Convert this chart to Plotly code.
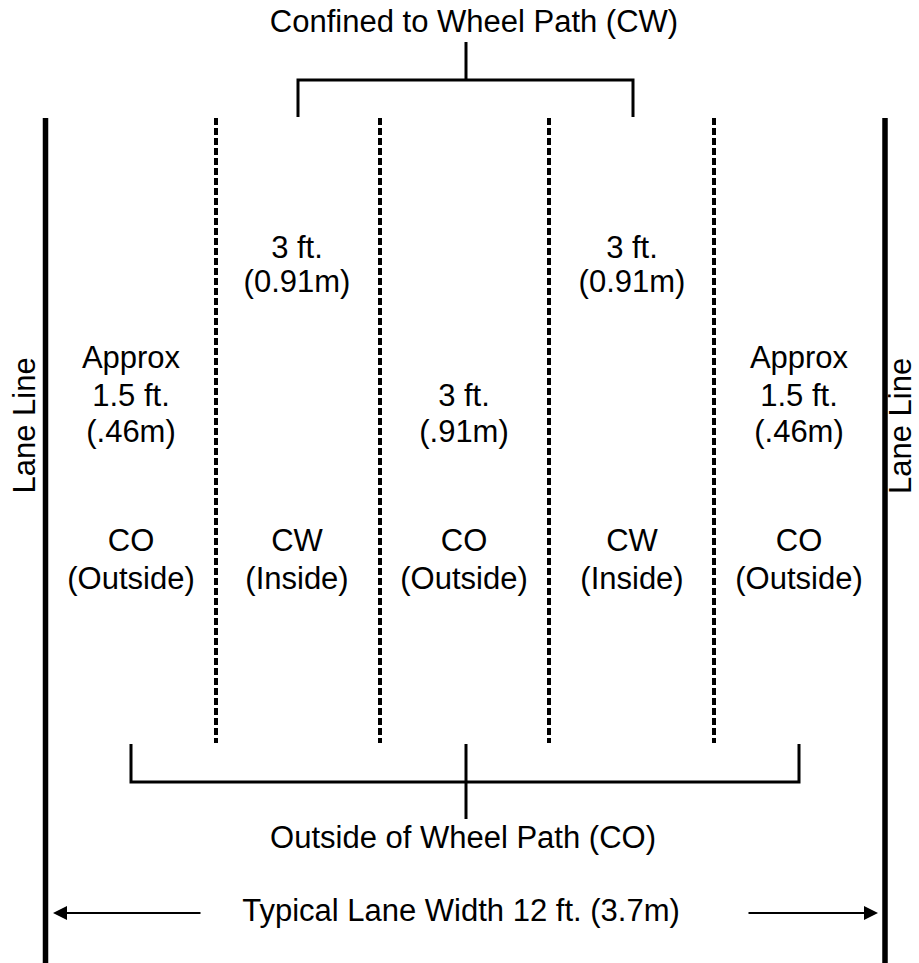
import plotly.graph_objects as go

# ---- diagram data (positions in page-pixel units of the drawing) ----
lane_line_x = [45.5, 885]
lane_line_top = 118
lane_line_bottom = 963

divider_x = [216, 380, 549, 714]
divider_bottom = 743

column_x = [131, 297, 464, 632, 799]
zone_text = ["CO", "CW", "CO", "CW", "CO"]
side_text = ["(Outside)", "(Inside)", "(Outside)", "(Inside)", "(Outside)"]
zone_y = 543
side_y = 581

inner_cols = [1, 3]
inner_width_text = ["3 ft.", "(0.91m)"]
inner_width_y = [250, 284]

outer_cols = [0, 4]
outer_width_text = ["Approx", "1.5 ft.", "(.46m)"]
outer_width_y = [360, 398, 434]

center_cols = [2]
center_width_text = ["3 ft.", "(.91m)"]
center_width_y = [398, 434]

cw_bracket_x = [298, 633]
cw_bracket_y = [117, 80]
cw_stem_x = 466
cw_stem_top = 42
cw_title = "Confined to Wheel Path (CW)"
cw_title_pos = (474, 24)

co_bracket_x = [131, 799]
co_bracket_y = [744, 782]
co_stem_x = 466
co_stem_bottom = 819
co_title = "Outside of Wheel Path (CO)"
co_title_pos = (463, 840)

width_title = "Typical Lane Width 12 ft. (3.7m)"
width_title_pos = (461, 913)
arrow_left = (202, 53)
arrow_right = (747, 878)

lane_label = "Lane Line"
lane_label_x = [23.5, 900]
lane_label_y = 426

FONT = "Liberation Sans, Arial, sans-serif"
FS = 31
BLACK = "#000000"

fig = go.Figure()

def line(xs, ys, width, dash="solid"):
    fig.add_trace(go.Scatter(x=xs, y=ys, mode="lines",
                             line=dict(color=BLACK, width=width, dash=dash),
                             hoverinfo="skip", showlegend=False))

# lane lines
for lx in lane_line_x:
    line([lx, lx], [lane_line_top, lane_line_bottom], 5.5)

# dashed dividers
for dx in divider_x:
    line([dx, dx], [lane_line_top, divider_bottom], 4, dash="7px,3px")

# CW bracket (top)
line([cw_bracket_x[0], cw_bracket_x[0], cw_bracket_x[1], cw_bracket_x[1]],
     [cw_bracket_y[0], cw_bracket_y[1], cw_bracket_y[1], cw_bracket_y[0]], 3)
line([cw_stem_x, cw_stem_x], [cw_stem_top, cw_bracket_y[1]], 3)

# CO bracket (bottom)
line([co_bracket_x[0], co_bracket_x[0], co_bracket_x[1], co_bracket_x[1]],
     [co_bracket_y[0], co_bracket_y[1], co_bracket_y[1], co_bracket_y[0]], 3)
line([co_stem_x, co_stem_x], [co_bracket_y[0], co_stem_bottom], 3)

# text labels
tx, ty, tt = [], [], []
for c in range(len(column_x)):
    tx += [column_x[c], column_x[c]]
    ty += [zone_y, side_y]
    tt += [zone_text[c], side_text[c]]
for c in inner_cols:
    for s, y in zip(inner_width_text, inner_width_y):
        tx.append(column_x[c]); ty.append(y); tt.append(s)
for c in outer_cols:
    for s, y in zip(outer_width_text, outer_width_y):
        tx.append(column_x[c]); ty.append(y); tt.append(s)
for c in center_cols:
    for s, y in zip(center_width_text, center_width_y):
        tx.append(column_x[c]); ty.append(y); tt.append(s)
for s, (x, y) in [(cw_title, cw_title_pos), (co_title, co_title_pos),
                  (width_title, width_title_pos)]:
    tx.append(x); ty.append(y); tt.append(s)

fig.add_trace(go.Scatter(x=tx, y=ty, text=tt, mode="text",
                         textposition="middle center",
                         textfont=dict(family=FONT, size=FS, color=BLACK),
                         hoverinfo="skip", showlegend=False))

# rotated lane line labels
for lx in lane_label_x:
    fig.add_annotation(x=lx, y=lane_label_y, text=lane_label, textangle=-90,
                       showarrow=False, xanchor="center", yanchor="middle",
                       font=dict(family=FONT, size=FS, color=BLACK))

# arrows
for tail, tip in [arrow_left, arrow_right]:
    fig.add_annotation(x=tip, y=width_title_pos[1], ax=tail, ay=width_title_pos[1],
                       xref="x", yref="y", axref="x", ayref="y", text="",
                       showarrow=True, arrowhead=2, arrowsize=1.4,
                       arrowwidth=2, arrowcolor=BLACK, standoff=0, startstandoff=0)

fig.update_layout(
    width=919, height=963,
    margin=dict(l=0, r=0, t=0, b=0),
    paper_bgcolor="white", plot_bgcolor="white",
    xaxis=dict(range=[0, 919], visible=False, fixedrange=True),
    yaxis=dict(range=[963, 0], visible=False, fixedrange=True),
    showlegend=False,
)

fig.write_html("out.html", config={"displayModeBar": False},
               post_script="document.body.style.margin='0';document.body.style.overflow='hidden';")
